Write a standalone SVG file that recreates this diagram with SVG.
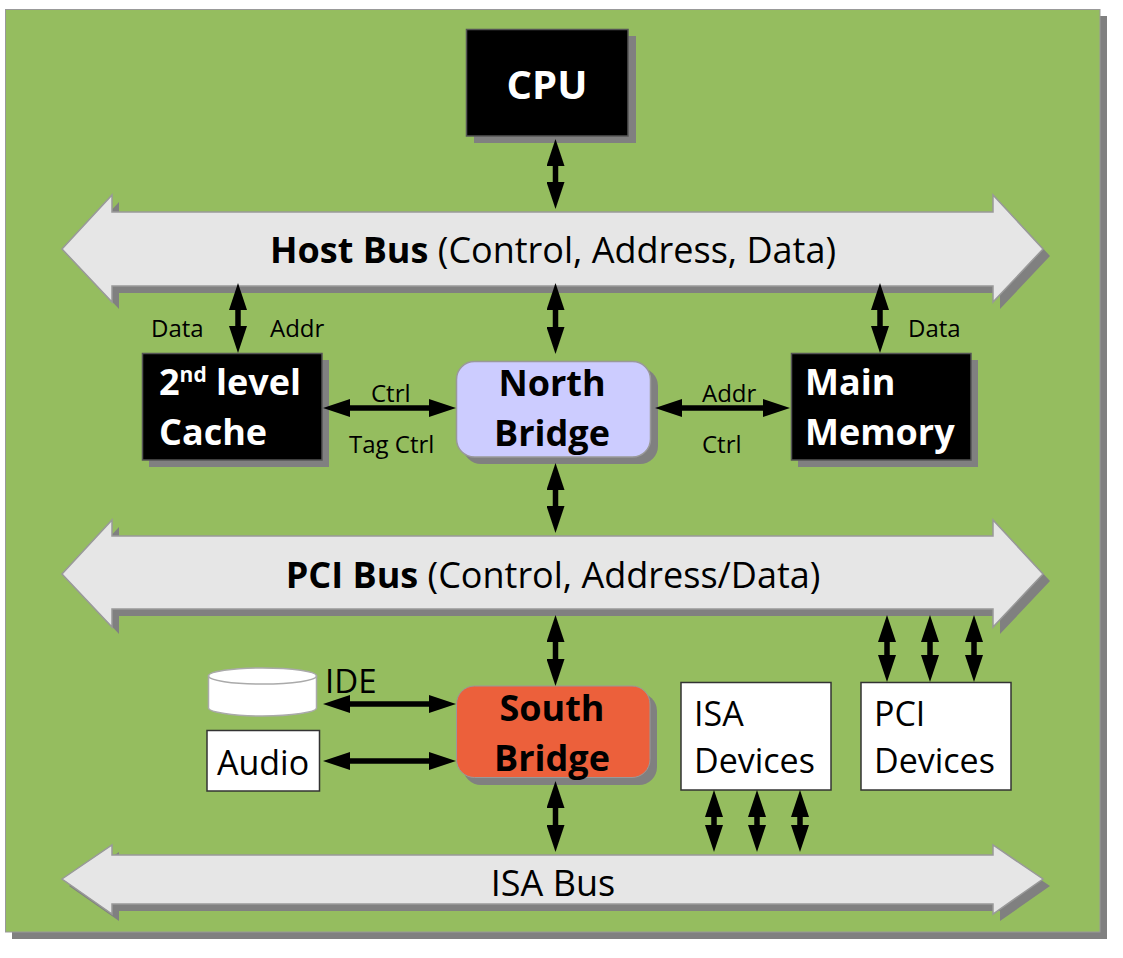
<svg xmlns="http://www.w3.org/2000/svg" width="1123" height="958" viewBox="0 0 1123 958">
<style>
text{font-family:"Open Sans","Noto Sans",sans-serif;fill:#000}
.sh{fill:#808080}
.box{stroke:#555;stroke-width:1.5}
.bus{fill:#e6e6e6;stroke:#999;stroke-width:1.5}
.blk{fill:#000}
.wht{fill:#fff}
.w{fill:#fff;font-weight:700;font-size:36px}
.b{font-weight:700;font-size:36px}
.bt{font-size:36px}
.lab{font-size:24px}
.dev{font-size:34px}
.c{text-anchor:middle}
.arr{stroke:#000;stroke-width:5.5;fill:none;marker-start:url(#ah);marker-end:url(#ah)}
</style>
<defs>
<marker id="ah" markerUnits="userSpaceOnUse" markerWidth="27" markerHeight="18" refX="17" refY="9" orient="auto-start-reverse"><path d="M0,0L27,9L0,18Z" fill="#000"/></marker>
</defs>
<rect width="1123" height="958" fill="#fff"/>
<g id="panel"><rect class="sh" x="12" y="16" width="1095" height="923"/><rect x="5.500" y="9.500" width="1094.500" height="922.500" fill="#95bd5f" stroke="#999"/></g>
<g id="host-bus"><path class="sh" d="M119,202V218H1000V202L1050,256L1000,309V293H119V309L69,256Z"/><path class="bus" d="M62,249L112,195V212H993V195L1043,249L993,302V286H112V302Z"/><text x="553" y="263" class="c bt"><tspan font-weight="700">Host Bus</tspan> (Control, Address, Data)</text></g>
<g id="pci-bus"><path class="sh" d="M119,527V543H1000V527L1050,581L1000,634V616H119V634L69,581Z"/><path class="bus" d="M62,574L112,520V536H993V520L1043,574L993,627V609H112V627Z"/><text x="553" y="588" class="c bt"><tspan font-weight="700">PCI Bus</tspan> (Control, Address/Data)</text></g>
<g id="isa-bus"><path class="sh" d="M119,852V862H1000V852L1050,886L1000,921V911H119V921L69,886Z"/><path class="bus" d="M62,879L112,845V855H993V845L1043,879L993,914V904H112V914Z"/><text x="553" y="896" class="c bt">ISA Bus</text></g>
<g id="cpu"><rect class="sh" x="474" y="36" width="162" height="107"/><rect class="blk box" x="466.500" y="29.500" width="161.500" height="106.500"/><text x="547" y="99" class="w c" font-size="40" style="font-size:40px">CPU</text></g>
<g id="cache"><rect class="sh" x="149" y="360" width="180" height="107"/><rect class="blk box" x="142.500" y="353.500" width="179.500" height="106.500"/><text x="159" y="395" class="w">2<tspan font-size="21" dy="-13" style="font-size:21px">nd</tspan><tspan dy="13"> level</tspan></text><text x="159" y="445" class="w">Cache</text></g>
<g id="north-bridge"><rect class="sh" x="463" y="368" width="195" height="96" rx="18"/><rect x="456.500" y="361.500" width="194" height="95.500" rx="18" fill="#ccf" stroke="#999" stroke-width="1.500"/><text x="552" y="396" class="b c">North</text><text x="552" y="446" class="b c">Bridge</text></g>
<g id="main-memory"><rect class="sh" x="798" y="360" width="180" height="107"/><rect class="blk box" x="791.500" y="353.500" width="179.500" height="106.500"/><text x="805" y="395" class="w">Main</text><text x="805" y="445" class="w">Memory</text></g>
<g id="south-bridge"><rect class="sh" x="463" y="693" width="194" height="92" rx="18"/><rect x="456.500" y="686" width="193.500" height="91.500" rx="18" fill="#ec603b" stroke="#999" stroke-width="1"/><text x="552" y="721" class="b c">South</text><text x="552" y="771" class="b c">Bridge</text></g>
<g id="ide"><path class="wht" stroke="#aaa" stroke-width="1.500" d="M208.500,676V708C208.500,712 233,716 262.500,716S316.500,712 316.500,708V676Z"/><ellipse class="wht" cx="262.500" cy="676" rx="54" ry="8" stroke="#aaa" stroke-width="1.500"/><text x="325" y="693" style="font-size:33px">IDE</text></g>
<g id="audio"><rect class="wht" x="207" y="730.500" width="112.500" height="60.500" stroke="#333" stroke-width="1.500"/><text x="263" y="775" class="c dev">Audio</text></g>
<g id="isa-devices"><rect class="wht" x="681" y="682.500" width="150" height="107.500" stroke="#333" stroke-width="1.500"/><text x="694" y="726" class="dev">ISA</text><text x="694" y="773" class="dev">Devices</text></g>
<g id="pci-devices"><rect class="wht" x="861" y="682.500" width="150" height="107.500" stroke="#333" stroke-width="1.500"/><text x="874" y="726" class="dev">PCI</text><text x="874" y="773" class="dev">Devices</text></g>
<g id="connectors">
<line class="arr" x1="555.500" y1="149" x2="555.500" y2="199"/>
<line class="arr" x1="238" y1="293" x2="238" y2="343"/>
<line class="arr" x1="555.500" y1="293" x2="555.500" y2="344"/>
<line class="arr" x1="880" y1="293" x2="880" y2="343"/>
<line class="arr" x1="333" y1="408" x2="446" y2="408"/>
<line class="arr" x1="665" y1="408" x2="780" y2="408"/>
<line class="arr" x1="555.500" y1="473" x2="555.500" y2="523"/>
<line class="arr" x1="555.500" y1="625" x2="555.500" y2="676"/>
<line class="arr" x1="333" y1="704" x2="446" y2="704"/>
<line class="arr" x1="333" y1="761" x2="446" y2="761"/>
<line class="arr" x1="555.500" y1="791" x2="555.500" y2="842"/>
<line class="arr" x1="714" y1="800" x2="714" y2="842"/>
<line class="arr" x1="757" y1="800" x2="757" y2="842"/>
<line class="arr" x1="800" y1="800" x2="800" y2="842"/>
<line class="arr" x1="887" y1="625" x2="887" y2="672"/>
<line class="arr" x1="930" y1="625" x2="930" y2="672"/>
<line class="arr" x1="974" y1="625" x2="974" y2="672"/>
</g>
<g id="labels">
<text x="151" y="337" class="lab">Data</text>
<text x="270" y="337" class="lab">Addr</text>
<text x="908" y="337" class="lab">Data</text>
<text x="371" y="402" class="lab">Ctrl</text>
<text x="349" y="453" class="lab">Tag Ctrl</text>
<text x="702" y="402" class="lab">Addr</text>
<text x="702" y="453" class="lab">Ctrl</text>
</g>
</svg>
